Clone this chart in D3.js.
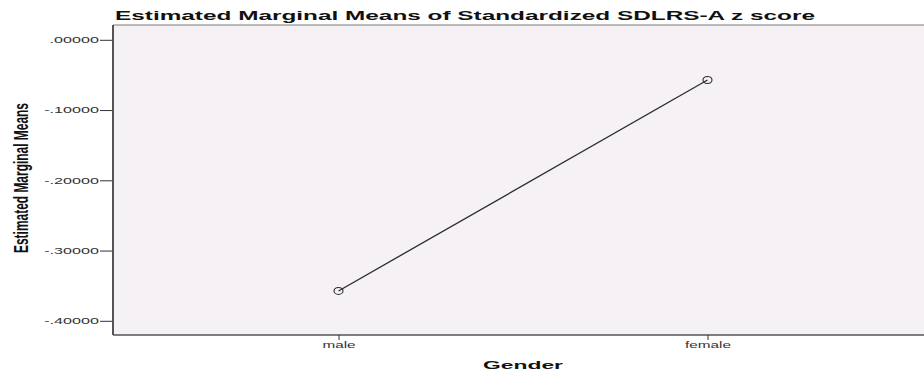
<html lang="en">
<head>
<meta charset="UTF-8">
<title>Estimated Marginal Means</title>
<script src="https://d3js.org/d3.v7.min.js"></script>
<style>
  body { margin: 0; background: #fff; }
  text { font-family: "Liberation Sans", Arial, sans-serif; }
</style>
</head>
<body>
<svg width="924" height="375"></svg>
<script>
    // data
    const genders = ["male", "female"];
    const means = [-0.3575, -0.0572];
    const yTicks = [0, -0.1, -0.2, -0.3, -0.4];

    const svg = d3.select("svg");
    const plotLeft = 113, plotTop = 25, plotRight = 940, plotBottom = 335;

    const x = d3.scalePoint()
        .domain(genders)
        .range([338.5, 707.5]);   // categories sit at these positions
    const y = d3.scaleLinear()
        .domain([0, -0.4])
        .range([39.8, 320.8]);

    // the original uses wide-looking type, stretch glyphs sideways
    function stretch(sel, k) {
        sel.each(function() {
            const w = this.getComputedTextLength();
            d3.select(this).attr("textLength", w * k).attr("lengthAdjust", "spacingAndGlyphs");
        });
    }

    // plot background
    svg.append("rect")
        .attr("x", plotLeft).attr("y", plotTop)
        .attr("width", plotRight - plotLeft).attr("height", plotBottom - plotTop)
        .attr("fill", "#f5f1f5");

    // frame lines
    svg.append("line").attr("x1", plotLeft).attr("x2", plotRight).attr("y1", plotTop).attr("y2", plotTop)
        .attr("stroke", "#7a7a7a").attr("stroke-width", 1.2);
    svg.append("line").attr("x1", plotLeft).attr("x2", plotRight).attr("y1", plotBottom).attr("y2", plotBottom)
        .attr("stroke", "#555").attr("stroke-width", 1.3);
    svg.append("line").attr("x1", plotLeft).attr("x2", plotLeft).attr("y1", plotTop).attr("y2", plotBottom)
        .attr("stroke", "#555").attr("stroke-width", 2);

    // y axis
    const yAxis = d3.axisLeft(y)
        .tickValues(yTicks)
        .tickSize(12)
        .tickPadding(1)
        .tickFormat(d => d === 0 ? ".00000" : "-" + d3.format(".5f")(-d).replace(/^0/, ""));
    const gy = svg.append("g").attr("transform", `translate(${plotLeft - 1},0)`).call(yAxis);
    gy.select(".domain").remove();
    gy.selectAll("line").attr("stroke", "#333");
    gy.selectAll("text").attr("font-size", 8.5).attr("fill", "#333");
    stretch(gy.selectAll("text"), 1.9);

    // x axis
    const xAxis = d3.axisBottom(x).tickSize(5).tickPadding(2);
    const gx = svg.append("g").attr("transform", `translate(0,${plotBottom})`).call(xAxis);
    gx.select(".domain").remove();
    gx.selectAll("line").attr("stroke", "#333");
    gx.selectAll("text").attr("font-size", 8.5).attr("fill", "#333");
    stretch(gx.selectAll("text"), 1.8);

    // line and markers
    const pts = genders.map((g, i) => ({g: g, v: means[i]}));
    svg.append("path")
        .datum(pts)
        .attr("fill", "none")
        .attr("stroke", "#2a2a2a")
        .attr("stroke-width", 1.3)
        .attr("d", d3.line().x(d => x(d.g)).y(d => y(d.v)));
    svg.selectAll("ellipse.pt")
        .data(pts)
        .enter().append("ellipse")
        .attr("class", "pt")
        .attr("cx", d => x(d.g)).attr("cy", d => y(d.v))
        .attr("rx", 4.5).attr("ry", 3.5)
        .attr("fill", "none")
        .attr("stroke", "#2a2a2a")
        .attr("stroke-width", 1.1);

    // title
    svg.append("text")
        .attr("x", 115).attr("y", 19.5)
        .attr("font-size", 12.8)
        .attr("font-weight", "bold")
        .attr("textLength", 700)
        .attr("lengthAdjust", "spacingAndGlyphs")
        .attr("fill", "#111")
        .text("Estimated Marginal Means of Standardized SDLRS-A z score");

    // axis titles
    svg.append("text")
        .attr("x", 523).attr("y", 368.5)
        .attr("text-anchor", "middle")
        .attr("font-size", 10.8)
        .attr("font-weight", "bold")
        .attr("textLength", 80)
        .attr("lengthAdjust", "spacingAndGlyphs")
        .attr("fill", "#111")
        .text("Gender");

    svg.append("text")
        .attr("transform", "translate(28,178) rotate(-90)")
        .attr("text-anchor", "middle")
        .attr("font-size", 19.5)
        .attr("font-weight", "bold")
        .attr("textLength", 150)
        .attr("lengthAdjust", "spacingAndGlyphs")
        .attr("fill", "#111")
        .text("Estimated Marginal Means");
</script>
</body>
</html>
